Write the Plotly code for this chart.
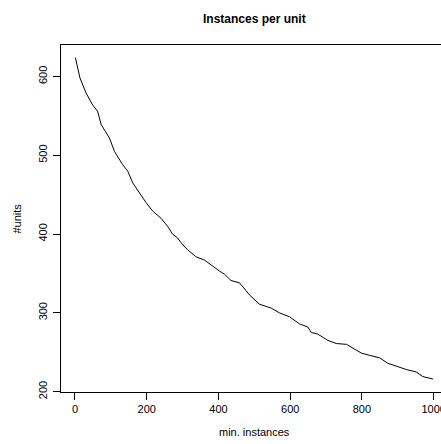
import plotly.graph_objects as go

# Minimum instance threshold vs. number of units remaining
min_instances = [1, 14, 31, 49, 63, 73, 96, 110, 133, 147, 161, 179, 198, 217,
                 240, 258, 272, 286, 296, 314, 338, 361, 384, 403, 417, 435,
                 459, 486, 514, 547, 570, 598, 626, 649, 659, 677, 705, 729,
                 757, 775, 798, 821, 849, 872, 896, 924, 951, 970, 998]
n_units = [624, 598, 579, 564, 556, 539, 522, 505, 488, 480, 465, 452, 440, 429,
           420, 410, 400, 395, 389, 380, 371, 367, 359, 353, 349, 341,
           338, 323, 311, 306, 300, 295, 286, 282, 275, 273, 265, 261,
           260, 255, 249, 246, 243, 236, 232, 228, 225, 219, 216]

x_ticks = [0, 200, 400, 600, 800, 1000]
y_ticks = [200, 300, 400, 500, 600]

FONT = "Liberation Sans, Arial, Helvetica, sans-serif"

fig = go.Figure()
fig.add_trace(go.Scatter(
    x=min_instances, y=n_units, mode="lines",
    line=dict(color="black", width=1), showlegend=False, hoverinfo="skip",
))

fig.update_layout(
    width=460, height=444,
    margin=dict(l=61, r=12, t=45, b=52),
    paper_bgcolor="white", plot_bgcolor="white",
    font=dict(family=FONT, size=11, color="black"),
    xaxis=dict(
        range=[-39, 1040], tickvals=x_ticks, ticktext=[str(v) for v in x_ticks],
        ticks="outside", ticklen=7, tickwidth=1, tickcolor="black",
        showline=True, linecolor="black", linewidth=1, mirror=True,
        showgrid=False, zeroline=False, ticklabeloverflow="allow",
        tickfont=dict(family=FONT, size=11, color="black"),
    ),
    yaxis=dict(
        range=[199.5, 640], tickvals=y_ticks, ticktext=[str(v) for v in y_ticks],
        ticks="outside", ticklen=7, tickwidth=1, tickcolor="black",
        showline=True, linecolor="black", linewidth=1, mirror=True,
        showgrid=False, zeroline=False, tickangle=-90,
        ticklabelstandoff=2,
        tickfont=dict(family=FONT, size=11, color="black"),
    ),
    annotations=[
        dict(text="<b>Instances per unit</b>", xref="paper", yref="paper",
             x=0.5, y=(392 - 19) / 347, xanchor="center", yanchor="middle",
             showarrow=False, font=dict(family=FONT, size=12, color="black")),
        dict(text="min. instances", xref="paper", yref="paper",
             x=0.5, y=(392 - 432) / 347, xanchor="center", yanchor="middle",
             showarrow=False, font=dict(family=FONT, size=11, color="black")),
        dict(text="#units", xref="paper", yref="paper",
             x=(16 - 61) / 387, y=0.5, xanchor="center", yanchor="middle",
             textangle=-90, showarrow=False,
             font=dict(family=FONT, size=11, color="black")),
    ],
)

fig.write_html(
    "out.html",
    post_script="document.documentElement.style.overflow='hidden';"
                "document.body.style.overflow='hidden';",
)
